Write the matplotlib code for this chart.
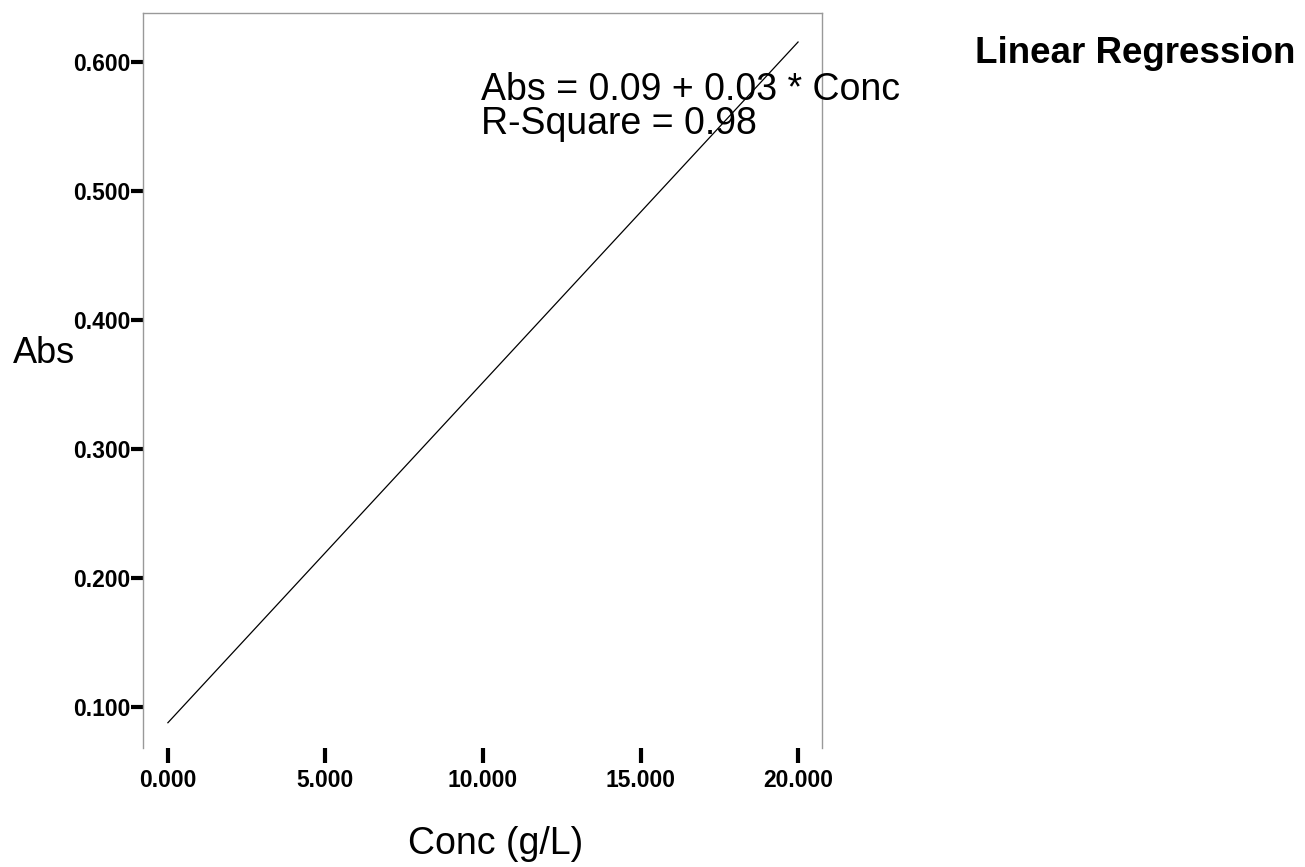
import matplotlib.pyplot as plt

plt.rcParams['font.family'] = ['Liberation Sans', 'DejaVu Sans']

# fitted regression line (ends of the line)
conc = [0.0, 20.0]
absorb = [0.0876, 0.6155]

x_ticks = [0, 5, 10, 15, 20]
x_labels = ['0.000', '5.000', '10.000', '15.000', '20.000']
y_ticks = [0.1, 0.2, 0.3, 0.4, 0.5, 0.6]
y_labels = ['0.100', '0.200', '0.300', '0.400', '0.500', '0.600']

W, H = 1305, 867
fig = plt.figure(figsize=(W / 100, H / 100), dpi=100)
ax = fig.add_axes([143 / W, 1 - 748 / H, (822 - 143) / W, (748 - 13) / H])

ax.plot(conc, absorb, color='black', linewidth=0.9)

ax.set_xlim(-0.79, 20.76)
ax.set_ylim(0.068, 0.638)

ax.set_xticks(x_ticks)
ax.set_xticklabels(x_labels, fontsize=16.5, fontweight='bold')
ax.set_yticks(y_ticks)
ax.set_yticklabels(y_labels, fontsize=16.5, fontweight='bold')
ax.tick_params(axis='x', direction='out', length=11, width=3, pad=4, color='black')
ax.tick_params(axis='y', direction='out', length=9, width=3, pad=0, color='black')

ax.spines['bottom'].set_visible(False)
for s in ['top', 'left', 'right']:
    ax.spines[s].set_color('#999999')
    ax.spines[s].set_linewidth(1.0)

# regression annotation
ax.text(9.94, 0.5705, 'Abs = 0.09 + 0.03 * Conc', fontsize=27, va='baseline', ha='left')
ax.text(9.94, 0.5440, 'R-Square = 0.98', fontsize=27, va='baseline', ha='left')

fig.text(13 / W, 1 - 363 / H, 'Abs', fontsize=26, va='baseline', ha='left')
fig.text(496 / W, 1 - 854 / H, 'Conc (g/L)', fontsize=27, va='baseline', ha='center')
fig.text(975 / W, 1 - 63 / H, 'Linear Regression', fontsize=26.5, fontweight='bold',
         va='baseline', ha='left')

fig.savefig('out.png', dpi=100)
plt.close(fig)
